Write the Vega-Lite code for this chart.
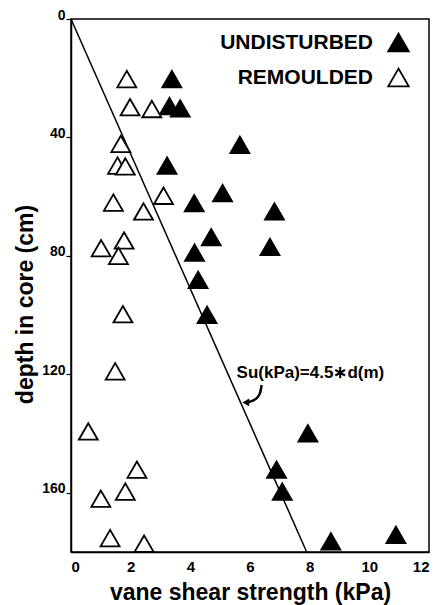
{
  "$schema": "https://vega.github.io/schema/vega-lite/v6.json",
  "width": 358,
  "height": 533,
  "autosize": {"type": "none"},
  "padding": {"left": 71, "top": 19, "right": 9, "bottom": 53},
  "background": "white",
  "config": {
    "view": {"stroke": "black", "strokeWidth": 1.5},
    "axis": {
      "grid": false,
      "domainColor": "black",
      "domainWidth": 1.5,
      "labelColor": "black",
      "labelFont": "Liberation Sans",
      "labelFontWeight": "bold",
      "titleColor": "black",
      "titleFont": "Liberation Sans",
      "titleFontWeight": "bold",
      "tickColor": "black",
      "tickWidth": 1.2
    },
    "text": {"font": "Liberation Sans"}
  },
  "datasets": {
    "obs": [
      {"type": "UNDISTURBED", "strength": 3.38, "depth": 20.3},
      {"type": "UNDISTURBED", "strength": 3.30, "depth": 29.4},
      {"type": "UNDISTURBED", "strength": 3.66, "depth": 30.2},
      {"type": "UNDISTURBED", "strength": 5.66, "depth": 42.5},
      {"type": "UNDISTURBED", "strength": 3.22, "depth": 49.5},
      {"type": "UNDISTURBED", "strength": 5.08, "depth": 58.8},
      {"type": "UNDISTURBED", "strength": 4.13, "depth": 62.2},
      {"type": "UNDISTURBED", "strength": 6.82, "depth": 65.0},
      {"type": "UNDISTURBED", "strength": 4.70, "depth": 73.7},
      {"type": "UNDISTURBED", "strength": 6.67, "depth": 77.0},
      {"type": "UNDISTURBED", "strength": 4.14, "depth": 78.9},
      {"type": "UNDISTURBED", "strength": 4.26, "depth": 88.1},
      {"type": "UNDISTURBED", "strength": 4.56, "depth": 99.9},
      {"type": "UNDISTURBED", "strength": 7.94, "depth": 139.9},
      {"type": "UNDISTURBED", "strength": 6.89, "depth": 152.2},
      {"type": "UNDISTURBED", "strength": 7.08, "depth": 159.6},
      {"type": "UNDISTURBED", "strength": 8.71, "depth": 176.4},
      {"type": "UNDISTURBED", "strength": 10.89, "depth": 174.2},
      {"type": "REMOULDED", "strength": 1.87, "depth": 20.3},
      {"type": "REMOULDED", "strength": 1.98, "depth": 29.8},
      {"type": "REMOULDED", "strength": 2.71, "depth": 30.4},
      {"type": "REMOULDED", "strength": 1.67, "depth": 42.2},
      {"type": "REMOULDED", "strength": 1.56, "depth": 49.5},
      {"type": "REMOULDED", "strength": 1.82, "depth": 49.8},
      {"type": "REMOULDED", "strength": 3.10, "depth": 59.7},
      {"type": "REMOULDED", "strength": 1.42, "depth": 62.0},
      {"type": "REMOULDED", "strength": 2.43, "depth": 65.0},
      {"type": "REMOULDED", "strength": 1.78, "depth": 74.8},
      {"type": "REMOULDED", "strength": 1.01, "depth": 77.4},
      {"type": "REMOULDED", "strength": 1.59, "depth": 80.0},
      {"type": "REMOULDED", "strength": 1.74, "depth": 99.7},
      {"type": "REMOULDED", "strength": 1.48, "depth": 119.0},
      {"type": "REMOULDED", "strength": 0.58, "depth": 139.3},
      {"type": "REMOULDED", "strength": 2.21, "depth": 152.2},
      {"type": "REMOULDED", "strength": 1.82, "depth": 159.6},
      {"type": "REMOULDED", "strength": 1.00, "depth": 162.0},
      {"type": "REMOULDED", "strength": 1.31, "depth": 175.3},
      {"type": "REMOULDED", "strength": 2.45, "depth": 177.2}
    ],
    "fit": [
      {"strength": 0, "depth": 0},
      {"strength": 7.9, "depth": 180}
    ],
    "note": [
      {"strength": 5.55, "depth": 119.5, "label": "Su(kPa)=4.5∗d(m)"}
    ],
    "arrow": [
      {"o": 1, "strength": 6.39, "depth": 123.6},
      {"o": 2, "strength": 6.34, "depth": 127.2},
      {"o": 3, "strength": 6.12, "depth": 129.0},
      {"o": 4, "strength": 5.88, "depth": 129.5}
    ],
    "head": [
      {"strength": 5.86, "depth": 129.5}
    ]
  },
  "encoding": {
    "x": {
      "field": "strength",
      "type": "quantitative",
      "scale": {"domain": [0, 12], "nice": false, "zero": false},
      "axis": {
        "values": [0, 2, 4, 6, 8, 10, 12],
        "ticks": false,
        "labelPadding": 7,
        "labelFontSize": 15,
        "title": "vane shear strength (kPa)",
        "titleFontSize": 23,
        "titleBaseline": "alphabetic",
        "titleY": 47,
        "titleAlign": "center"
      }
    },
    "y": {
      "field": "depth",
      "type": "quantitative",
      "scale": {"domain": [0, 180], "nice": false, "zero": false, "reverse": true},
      "axis": {
        "values": [0, 40, 80, 120, 160],
        "tickSize": 5,
        "labelPadding": 1,
        "labelFontSize": 14,
        "labelBaseline": "alphabetic",
        "title": "depth in core (cm)",
        "titleFontSize": 23,
        "titleAngle": -90,
        "titleBaseline": "alphabetic",
        "titleAlign": "center",
        "titleX": -39,
        "titleY": 285
      }
    }
  },
  "layer": [
    {
      "data": {"name": "fit"},
      "mark": {"type": "line", "color": "black", "strokeWidth": 1.5}
    },
    {
      "data": {"name": "obs"},
      "mark": {"type": "point", "shape": "triangle-up", "filled": true, "opacity": 1, "stroke": "black", "strokeWidth": 1.8, "size": 360},
      "encoding": {
        "fill": {
          "field": "type",
          "type": "nominal",
          "scale": {"domain": ["UNDISTURBED", "REMOULDED"], "range": ["black", "white"]},
          "legend": {
            "title": null,
            "orient": "none",
            "legendX": 146,
            "legendY": 12,
            "padding": 0,
            "symbolType": "triangle-up",
            "symbolSize": 420,
            "symbolStrokeColor": "black",
            "symbolStrokeWidth": 1.8,
            "symbolOpacity": 1,
            "symbolOffset": 170,
            "labelOffset": -37,
            "labelAlign": "right",
            "labelFont": "Liberation Sans",
            "labelFontWeight": "bold",
            "labelFontSize": 21,
            "labelColor": "black",
            "labelLimit": 300,
            "rowPadding": 10
          }
        }
      }
    },
    {
      "data": {"name": "note"},
      "mark": {"type": "text", "align": "left", "baseline": "middle", "fontSize": 17, "fontWeight": "bold", "color": "black"},
      "encoding": {"text": {"field": "label"}}
    },
    {
      "data": {"name": "arrow"},
      "mark": {"type": "line", "color": "black", "strokeWidth": 2.5, "interpolate": "basis"},
      "encoding": {"order": {"field": "o", "type": "quantitative"}}
    },
    {
      "data": {"name": "head"},
      "mark": {"type": "point", "shape": "triangle-left", "filled": true, "opacity": 1, "color": "black", "size": 60}
    }
  ]
}
